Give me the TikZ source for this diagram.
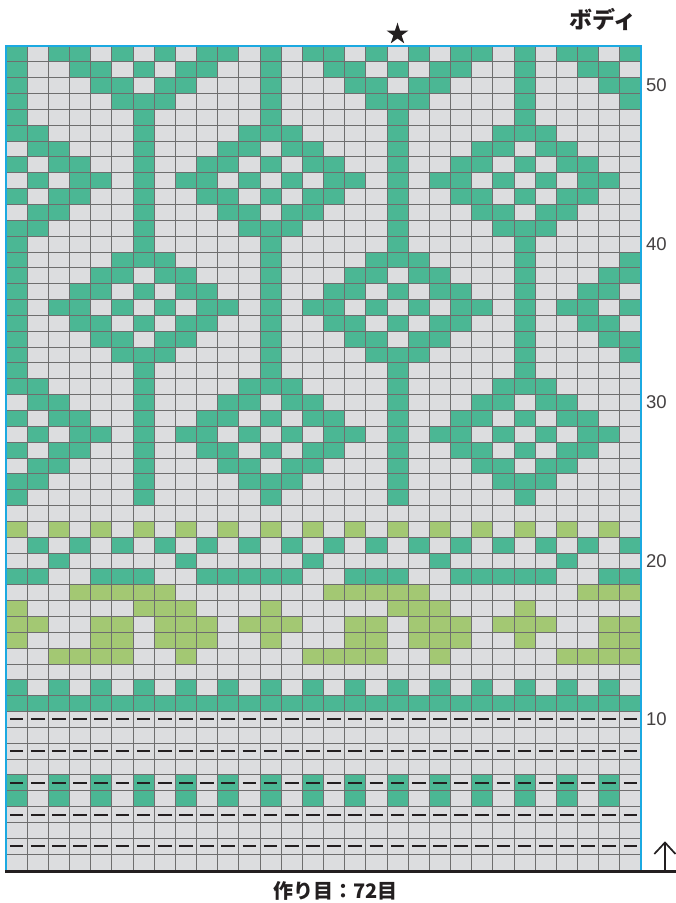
\documentclass[tikz,border=0pt]{standalone}
\usepackage{fontspec}
\setmainfont{Liberation Sans}
\newfontfamily\cjk{Noto Sans CJK JP}
\usetikzlibrary{shapes.geometric}
\definecolor{kgreen}{RGB}{75,183,148}
\definecolor{klight}{RGB}{163,200,115}
\definecolor{kgray}{RGB}{220,221,223}
\definecolor{kgrid}{RGB}{110,110,110}
\definecolor{kblue}{RGB}{27,169,225}
\definecolor{kink}{RGB}{35,31,32}
\newcommand\kcw{21.1667}
\newcommand\kch{15.8462}
\newcommand\cellfill[3]{\fill[#3] ({6+(#1-1)*\kcw},{870-(#2)*\kch}) rectangle ++(\kcw,\kch);}
\newcommand\krow[3]{\foreach \kk in {#2}{\foreach \mm in {0,1,2}{\pgfmathtruncatemacro\cc{\kk+1+12*\mm}\ifnum\cc<31 \cellfill{\cc}{#1}{#3}\fi}}}
\newcommand\colrow[3]{\foreach \qq in {#2}{\cellfill{\qq}{#1}{#3}}}
\tikzset{
  gridline/.style={kgrid, line width=1pt},
  dashmark/.style={kink, line width=1.8pt},
  rowlabel/.style={anchor=west, inner sep=0pt, text=kink!85, font=\fontsize{18.5}{18.5}\selectfont},
}
\begin{document}
\begin{tikzpicture}[x=1pt,y=-1pt]
\useasboundingbox (0,0) rectangle (676,903);
\fill[white] (0,0) rectangle (676,903);
\fill[kgray] (6,46) rectangle (641,870);
% upper motif section
\foreach \r in {52,36}{\krow{\r}{0,2,3,5,7,9,10}{kgreen}}
\foreach \r in {51,37,35}{\krow{\r}{0,3,4,6,8,9}{kgreen}}
\foreach \r in {50,38,34}{\krow{\r}{0,4,5,7,8}{kgreen}}
\foreach \r in {49,39,33}{\krow{\r}{0,5,6,7}{kgreen}}
\foreach \r in {48,40,32,24}{\krow{\r}{0,6}{kgreen}}
\foreach \r in {47,41,31,25}{\krow{\r}{0,1,6,11}{kgreen}}
\foreach \r in {46,42,30,26}{\krow{\r}{1,2,6,10,11}{kgreen}}
\foreach \r in {45,43,29,27}{\krow{\r}{0,2,3,6,9,10}{kgreen}}
\foreach \r in {44,28}{\krow{\r}{1,3,4,6,8,9,11}{kgreen}}
% lower section
\colrow{22}{1,3,...,29}{klight}
\colrow{21}{2,4,...,30}{kgreen}
\colrow{20}{3,9,15,21,27}{kgreen}
\krow{19}{0,1,4,5,6,9,10,11}{kgreen}
\krow{18}{3,4,5,6,7}{klight}
\krow{17}{0,6,7,8}{klight}
\krow{16}{0,1,4,5,7,8,9,11}{klight}
\krow{15}{0,4,5,7,8,9}{klight}
\krow{14}{2,3,4,5,8}{klight}
\colrow{12}{1,3,...,29}{kgreen}
\colrow{11}{1,...,30}{kgreen}
\colrow{6}{1,3,...,29}{kgreen}
\colrow{5}{1,3,...,29}{kgreen}
% grid
\foreach \i in {0,...,30} \draw[gridline] ({6+\i*\kcw},46) -- ({6+\i*\kcw},870);
\foreach \j in {0,...,52} \draw[gridline] (6,{870-\j*\kch}) -- (641,{870-\j*\kch});
% dashes
\foreach \r in {2,4,6,8,10}{\foreach \q in {1,...,30}{\draw[dashmark] ({6+(\q-0.5)*\kcw-6.8},{round(870-(\r-0.5)*\kch)}) -- ++(13.6,0);}}
% borders
\draw[kblue, line width=1.8pt] (6,870) -- (6,45.9) -- (641.2,45.9) -- (641.2,870);
\draw[kink, line width=3pt] (5,871.8) -- (676,871.8);
% arrow
\coordinate (arrbase) at (665,870);
\coordinate (arrtip) at (665,842.5);
\coordinate (arrl) at (654.3,854);
\coordinate (arrr) at (675.5,854);
\draw[kink, line width=1.7pt] (arrbase) -- (arrtip);
\draw[kink, line width=1.7pt, line join=miter] (arrl) -- (arrtip) -- (arrr);
% row labels
\foreach \r in {10,20,30,40,50} \node[rowlabel] (lab\r) at (646,{870-(\r-0.5)*\kch}) {\r};
% star, title, caption
\node[star, star points=5, star point ratio=2.618, fill=kink, draw=none, minimum size=22.8pt, inner sep=0pt] (starmark) at (397.5,34.1) {};
\node[font=\cjk\bfseries\fontsize{23}{23}\selectfont, text=kink, inner sep=0pt] (title) at (603,19) {ボディ};
\node[font=\cjk\bfseries\fontsize{20}{20}\selectfont, text=kink, inner sep=0pt] (cast) at (335.5,891) {作り目：72目};
\end{tikzpicture}
\end{document}
